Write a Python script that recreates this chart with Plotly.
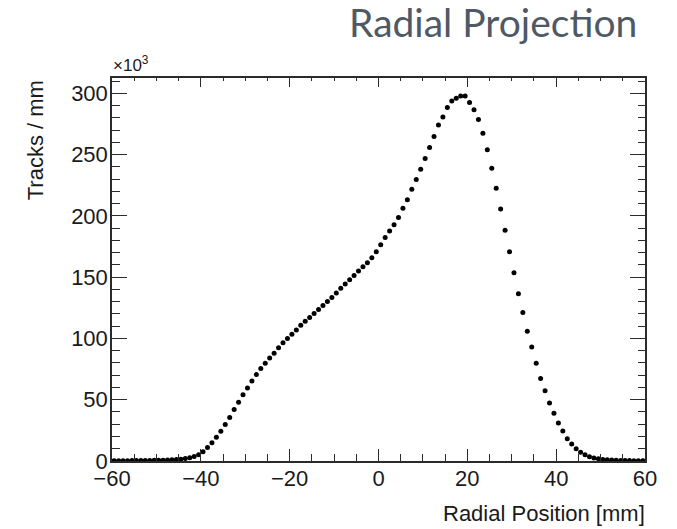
import plotly.graph_objects as go

# Radial position bins: 1 mm wide from -60 to 60 mm
bin_low = -60
bin_width = 1
n_bins = 120
bin_centers = [bin_low + bin_width * (i + 0.5) for i in range(n_bins)]

# Tracks per mm, in units of 10^3
tracks_k = [
    0.3, 0.3, 0.3, 0.3, 0.4, 0.4, 0.4, 0.5, 0.5, 0.6,
    0.6, 0.7, 0.8, 1.0, 1.2, 1.5, 2.0, 2.7, 3.6, 5.0,
    7.6, 11.0, 14.8, 19.3, 24.3, 29.8, 35.5, 42.0, 48.0, 54.0,
    59.5, 65.3, 70.5, 75.4, 79.8, 84.0, 88.0, 92.5, 96.5, 100.0,
    103.5, 107.0, 110.7, 114.0, 117.2, 120.3, 123.6, 127.0, 130.2, 133.5,
    137.2, 141.0, 144.4, 147.9, 151.4, 155.0, 158.5, 161.8, 165.8, 170.8,
    176.5, 182.5, 187.8, 192.8, 198.8, 206.2, 213.2, 221.7, 229.8, 238.2,
    246.9, 255.9, 264.9, 274.3, 280.8, 288.5, 293.8, 296.0, 298.0, 298.0,
    292.6, 286.6, 278.7, 267.5, 254.0, 239.0, 222.7, 205.7, 188.4, 170.7,
    153.6, 136.5, 121.3, 106.0, 93.0, 79.7, 67.4, 57.4, 47.3, 38.9,
    31.0, 24.5, 18.2, 13.9, 10.0, 7.1, 5.0, 3.5, 2.5, 1.8,
    1.3, 1.0, 0.8, 0.6, 0.5, 0.4, 0.4, 0.3, 0.3, 0.3,
]

x_ticks = [-60, -40, -20, 0, 20, 40, 60]
y_ticks = [0, 50, 100, 150, 200, 250, 300]

AXIS_FONT = "Liberation Sans, Arial, Helvetica, sans-serif"
LINE_COL = "#2b2b2b"
TEXT_COL = "#1a1a1a"

fig = go.Figure()
fig.add_trace(go.Scatter(
    x=bin_centers, y=tracks_k, mode="markers",
    marker=dict(color="black", size=5, line=dict(width=0)),
    hoverinfo="x+y", showlegend=False,
))
# invisible copy bound to the mirrored axes so they are drawn
fig.add_trace(go.Scatter(
    x=bin_centers, y=tracks_k, mode="markers", xaxis="x2", yaxis="y2",
    marker=dict(opacity=0), hoverinfo="skip", showlegend=False,
))

x_range = [-60, 60]
y_range = [0, 312.6]

fig.update_layout(
    width=677, height=529,
    margin=dict(l=112, r=32, t=78, b=68),
    paper_bgcolor="white", plot_bgcolor="white",
    font=dict(family=AXIS_FONT, color=TEXT_COL, size=22),
    xaxis=dict(
        range=x_range, tickvals=x_ticks, ticks="inside", ticklen=12, tickwidth=1.2,
        tickcolor=LINE_COL, showline=True, linecolor=LINE_COL, linewidth=1.5,
        showgrid=False, zeroline=False, tickfont=dict(size=22), ticklabelstandoff=-3,
        minor=dict(dtick=5, ticks="inside", ticklen=7, tickcolor=LINE_COL, tickwidth=1.2),
    ),
    yaxis=dict(
        range=y_range, tickvals=y_ticks, ticks="inside", ticklen=15, tickwidth=1.2,
        tickcolor=LINE_COL, showline=True, linecolor=LINE_COL, linewidth=1.5,
        showgrid=False, zeroline=False, tickfont=dict(size=22), ticklabelstandoff=-2,
        minor=dict(dtick=10, ticks="inside", ticklen=8, tickcolor=LINE_COL, tickwidth=1.2),
    ),
    xaxis2=dict(
        range=x_range, overlaying="x", side="top", anchor="y", matches="x",
        tickvals=x_ticks, ticks="inside", ticklen=9, tickwidth=1.2, tickcolor=LINE_COL,
        showticklabels=False, showline=True, linecolor=LINE_COL, linewidth=1.5,
        showgrid=False, zeroline=False,
        minor=dict(dtick=5, ticks="inside", ticklen=3, tickcolor=LINE_COL, tickwidth=1.2),
    ),
    yaxis2=dict(
        range=y_range, overlaying="y", side="right", anchor="x", matches="y",
        tickvals=y_ticks, ticks="inside", ticklen=15, tickwidth=1.2, tickcolor=LINE_COL,
        showticklabels=False, showline=True, linecolor=LINE_COL, linewidth=1.5,
        showgrid=False, zeroline=False,
        minor=dict(dtick=10, ticks="inside", ticklen=7, tickcolor=LINE_COL, tickwidth=1.2),
    ),
)

fig.add_annotation(
    text="Radial Projection", xref="paper", yref="paper",
    x=0.989, y=1.145, xanchor="right", yanchor="middle", showarrow=False,
    font=dict(family="Lato, Open Sans, sans-serif", size=39, color="#4f5966"),
)
fig.add_annotation(
    text="×10<sup>3</sup>", xref="paper", yref="paper",
    x=-0.002, y=1.0, xanchor="left", yanchor="bottom", yshift=1, showarrow=False,
    font=dict(family=AXIS_FONT, size=17, color=TEXT_COL),
)
fig.add_annotation(
    text="Tracks / mm", xref="paper", yref="paper", textangle=-90,
    x=-0.144, y=1.0, xanchor="center", yanchor="top", showarrow=False,
    font=dict(family=AXIS_FONT, size=22, color=TEXT_COL),
)
fig.add_annotation(
    text="Radial Position [mm]", xref="paper", yref="paper",
    x=1.004, y=-0.138, xanchor="right", yanchor="middle", showarrow=False,
    font=dict(family=AXIS_FONT, size=22, color=TEXT_COL),
)

fig.write_html("out.html")
